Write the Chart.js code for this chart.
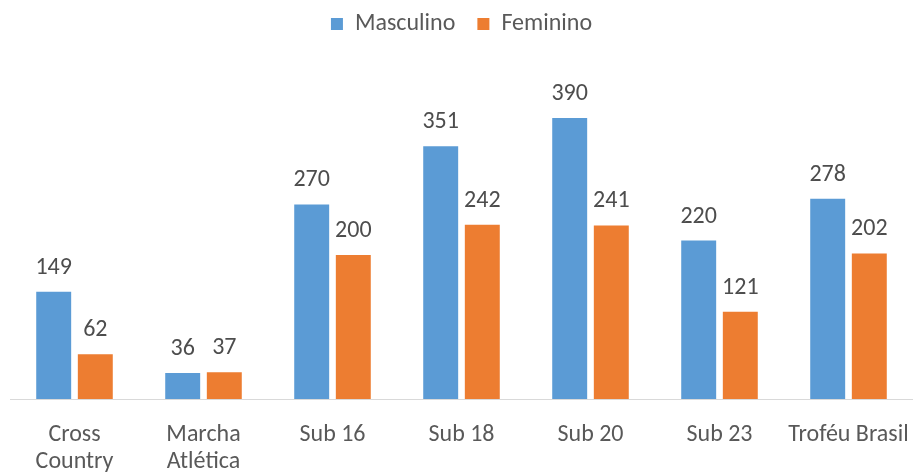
<!DOCTYPE html>
<html><head><meta charset="utf-8">
<script src="https://cdn.jsdelivr.net/npm/chart.js@4/dist/chart.umd.min.js"></script>
<style>html,body{margin:0;padding:0;background:#fff;}canvas{display:block;}</style>
</head><body>
<canvas id="c" width="913" height="472"></canvas>
<script>
const categories = [["Cross","Country"],["Marcha","Atlética"],"Sub 16","Sub 18","Sub 20","Sub 23","Troféu Brasil"];
const masculino = [149, 36, 270, 351, 390, 220, 278];
const feminino = [62, 37, 200, 242, 241, 121, 202];
const seriesNames = ["Masculino", "Feminino"];

const FONT = "Carlito, Calibri, Lato, 'Open Sans', sans-serif";

const labelPlugin = {
  id: 'barLabels',
  afterDatasetsDraw(chart) {
    const ctx = chart.ctx;
    ctx.save();
    ctx.font = "24px " + FONT;
    ctx.fillStyle = "#4d4d4d";
    ctx.textAlign = "center";
    ctx.textBaseline = "alphabetic";
    chart.data.datasets.forEach((ds, i) => {
      chart.getDatasetMeta(i).data.forEach((bar, j) => {
        ctx.fillText(String(ds.data[j]), bar.x, bar.y - 18);
      });
    });
    ctx.restore();
  }
};

new Chart(document.getElementById('c'), {
  type: 'bar',
  data: {
    labels: categories,
    datasets: [
      { label: seriesNames[0], data: masculino, backgroundColor: '#5B9BD5' },
      { label: seriesNames[1], data: feminino, backgroundColor: '#ED7D31' }
    ]
  },
  options: {
    responsive: false,
    animation: false,
    layout: { padding: { left: 10, right: 0, top: -10, bottom: 0 } },
    categoryPercentage: 0.645,
    barPercentage: 0.84,
    plugins: {
      legend: {
        position: 'top',
        labels: { boxWidth: 12, boxHeight: 12, padding: 22, font: { size: 24, family: FONT }, color: '#595959' }
      },
      tooltip: { enabled: false }
    },
    scales: {
      y: { display: false, min: 0, max: 490 },
      x: {
        afterFit(scale) { scale.height = 73; scale.paddingLeft = 0; scale.paddingRight = 0; },
        grid: { display: false },
        border: { display: true, color: '#d9d9d9', width: 1 },
        ticks: { font: { size: 24, family: FONT, lineHeight: 1.12 }, color: '#595959', padding: 15, maxRotation: 0, autoSkip: false }
      }
    }
  },
  plugins: [labelPlugin]
});
</script>
</body></html>
